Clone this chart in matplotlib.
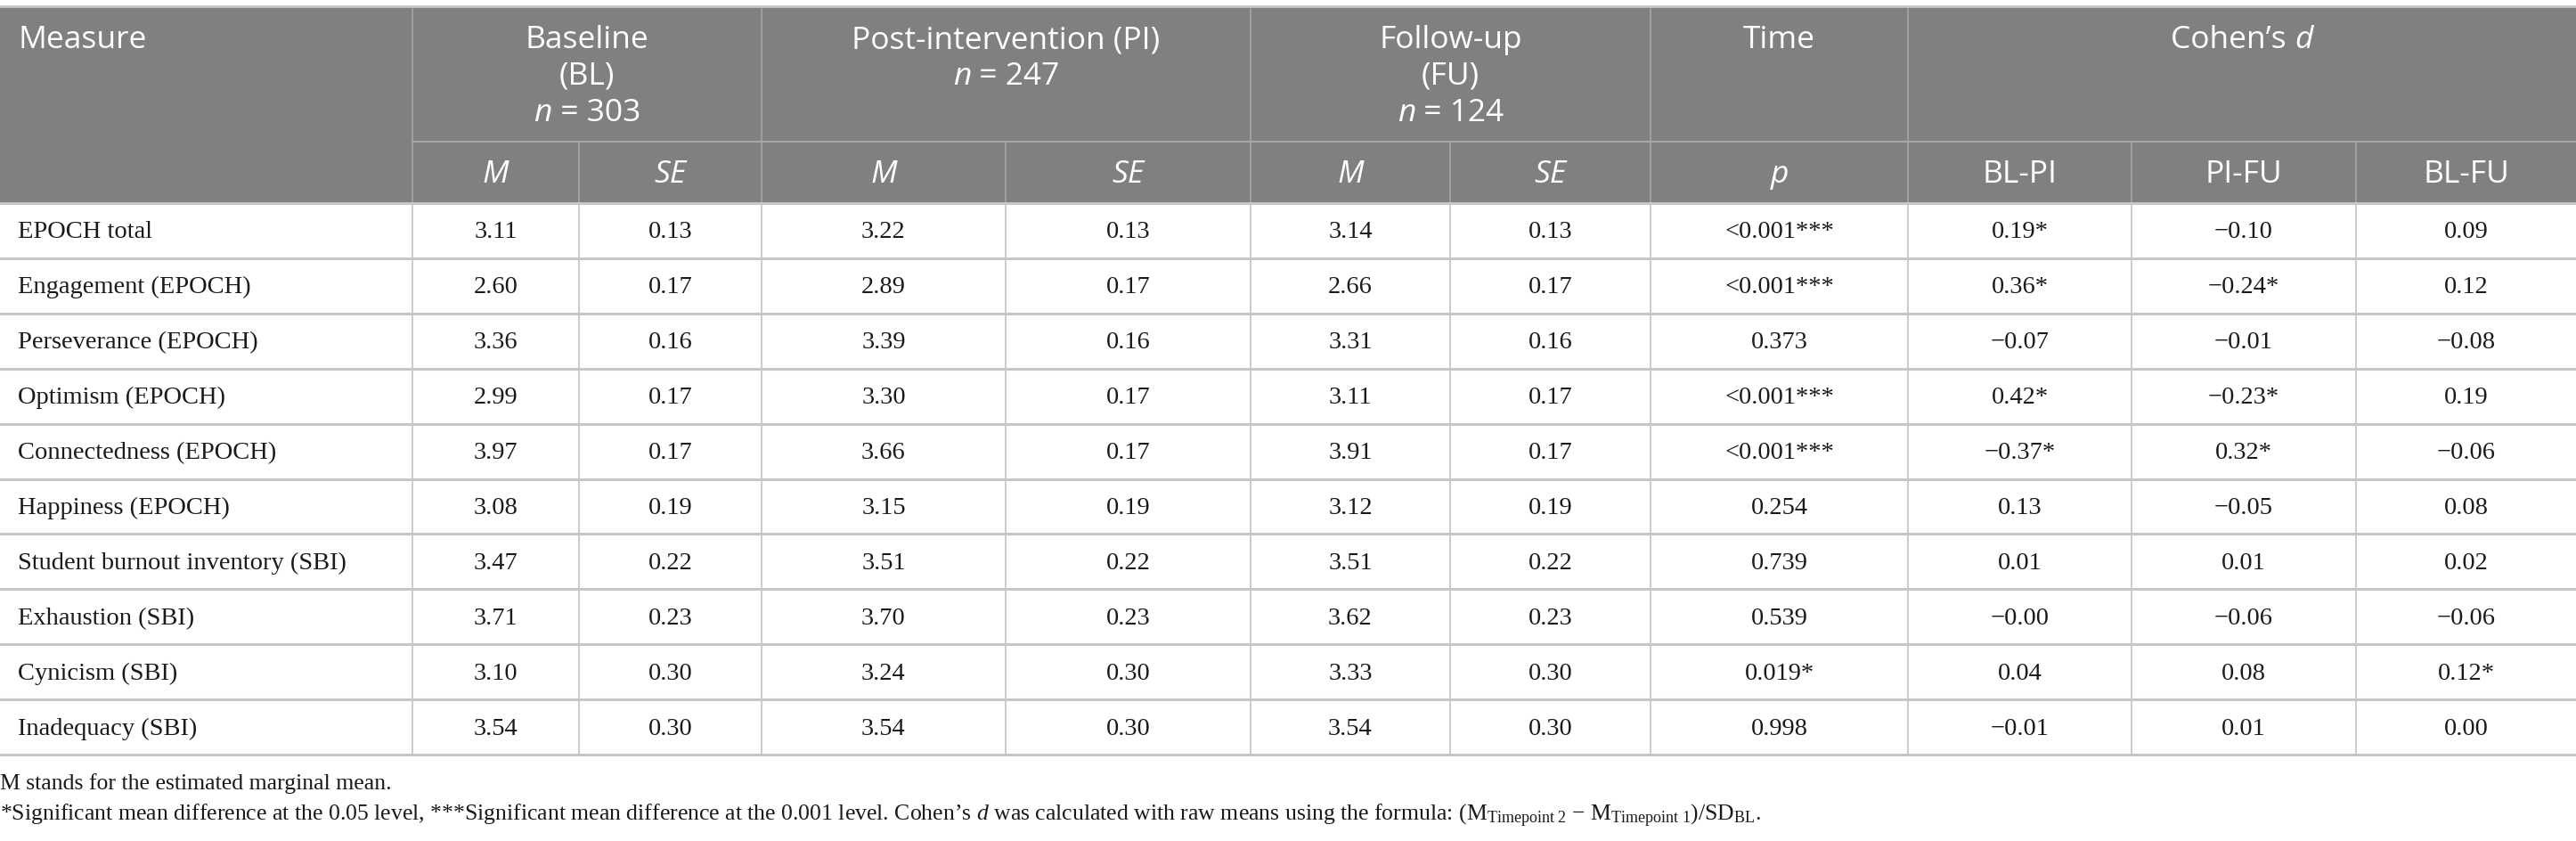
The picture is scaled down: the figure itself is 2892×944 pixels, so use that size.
import matplotlib
matplotlib.use("Agg")
import matplotlib.pyplot as plt

# ---------------- data ----------------
measures = ["EPOCH total", "Engagement (EPOCH)", "Perseverance (EPOCH)", "Optimism (EPOCH)",
            "Connectedness (EPOCH)", "Happiness (EPOCH)", "Student burnout inventory (SBI)",
            "Exhaustion (SBI)", "Cynicism (SBI)", "Inadequacy (SBI)"]
bl_m = ["3.11", "2.60", "3.36", "2.99", "3.97", "3.08", "3.47", "3.71", "3.10", "3.54"]
bl_se = ["0.13", "0.17", "0.16", "0.17", "0.17", "0.19", "0.22", "0.23", "0.30", "0.30"]
pi_m = ["3.22", "2.89", "3.39", "3.30", "3.66", "3.15", "3.51", "3.70", "3.24", "3.54"]
pi_se = ["0.13", "0.17", "0.16", "0.17", "0.17", "0.19", "0.22", "0.23", "0.30", "0.30"]
fu_m = ["3.14", "2.66", "3.31", "3.11", "3.91", "3.12", "3.51", "3.62", "3.33", "3.54"]
fu_se = ["0.13", "0.17", "0.16", "0.17", "0.17", "0.19", "0.22", "0.23", "0.30", "0.30"]
time_p = ["<0.001***", "<0.001***", "0.373", "<0.001***", "<0.001***", "0.254", "0.739",
          "0.539", "0.019*", "0.998"]
d_bl_pi = ["0.19*", "0.36*", "\u22120.07", "0.42*", "\u22120.37*", "0.13", "0.01", "\u22120.00", "0.04", "\u22120.01"]
d_pi_fu = ["\u22120.10", "\u22120.24*", "\u22120.01", "\u22120.23*", "0.32*", "\u22120.05", "0.01", "\u22120.06", "0.08", "0.01"]
d_bl_fu = ["0.09", "0.12", "\u22120.08", "0.19", "\u22120.06", "0.08", "0.02", "\u22120.06", "0.12*", "0.00"]

group_headers = [
    [("Baseline", "n")], [("(BL)", "n")], [("n", "i"), (" = 303", "n")],
]
pi_headers = [[("Post-intervention (PI)", "n")], [("n", "i"), (" = 247", "n")]]
fu_headers = [[("Follow-up", "n")], [("(FU)", "n")], [("n", "i"), (" = 124", "n")]]
sub_headers = [("M", "i"), ("SE", "i"), ("M", "i"), ("SE", "i"), ("M", "i"), ("SE", "i"),
               ("p", "i"), ("BL-PI", "n"), ("PI-FU", "n"), ("BL-FU", "n")]
note1 = "M stands for the estimated marginal mean."
note2 = (r"*Significant mean difference at the 0.05 level, ***Significant mean difference at the 0.001 level. "
         r"Cohen’s $d$ was calculated with raw means using the formula: "
         r"(M$_{\mathrm{Timepoint\ 2}}$ − M$_{\mathrm{Timepoint\ 1}}$)/SD$_{\mathrm{BL}}$.")

# ---------------- layout ----------------
W, H = 2892, 945
col_edges = [0, 463, 650, 855, 1129, 1404, 1628, 1853, 2142, 2393, 2645, 2892]
y_top, y_mid, y_head = 8, 160, 229
row_h = 61.9
n_rows = len(measures)
y_bottom = y_head + row_h * n_rows

plt.rcParams["mathtext.fontset"] = "custom"
plt.rcParams["mathtext.rm"] = "Liberation Serif"
plt.rcParams["mathtext.it"] = "Liberation Serif:italic"

fig = plt.figure(figsize=(W / 100, H / 100), dpi=100)
ax = fig.add_axes([0, 0, 1, 1])
ax.set_xlim(0, W)
ax.set_ylim(H, 0)
ax.axis("off")

HEAD_BG = "#808080"
HEAD_LINE = "#a6a6a6"
GRID = "#c6c6c6"
TXT = "#1a1a1a"
HFONT = "Open Sans"
HSIZE = 25.5
BFONT = "Liberation Serif"
BSIZE = 20.5
FSIZE = 18.5

# header background
ax.add_patch(plt.Rectangle((0, y_top), W, y_head - y_top, color=HEAD_BG, zorder=0, lw=0))
ax.plot([0, W], [y_top, y_top], color=GRID, lw=2, zorder=2)

# header lines
for x in [463, 855, 1404, 1853, 2142]:
    ax.plot([x, x], [y_top, y_head], color=HEAD_LINE, lw=1.2, zorder=1)
for x in [650, 1129, 1628, 2393, 2645]:
    ax.plot([x, x], [y_mid, y_head], color=HEAD_LINE, lw=1.2, zorder=1)
ax.plot([463, W], [y_mid, y_mid], color=HEAD_LINE, lw=1.5, zorder=1)

fig.canvas.draw()
renderer = fig.canvas.get_renderer()


def seg_text(xc, yc, segs, family, size, color, ha="center"):
    """Draw a list of (text, style) segments, centred at xc."""
    objs = []
    widths = []
    for s, st in segs:
        t = ax.text(0, yc, s, family=family, fontsize=size, color=color,
                    style="italic" if st == "i" else "normal", va="center", ha="left")
        bb = t.get_window_extent(renderer)
        widths.append(bb.width)
        objs.append(t)
    total = sum(widths)
    x = xc - total / 2 if ha == "center" else xc
    for t, w in zip(objs, widths):
        t.set_x(x)
        x += w


# top header texts
ax.text(20, 45, "Measure", family=HFONT, fontsize=HSIZE, color="white", va="center", ha="left")
line_ys = [45, 86, 127]
for i, segs in enumerate(group_headers):
    seg_text((463 + 855) / 2, line_ys[i], segs, HFONT, HSIZE, "white")
for i, segs in enumerate(pi_headers):
    seg_text((855 + 1404) / 2, line_ys[i], segs, HFONT, HSIZE, "white")
for i, segs in enumerate(fu_headers):
    seg_text((1404 + 1853) / 2, line_ys[i], segs, HFONT, HSIZE, "white")
seg_text((1853 + 2142) / 2, 45, [("Time", "n")], HFONT, HSIZE, "white")
seg_text((2142 + 2892) / 2, 45, [("Cohen’s ", "n"), ("d", "i")], HFONT, HSIZE, "white")

for j, seg in enumerate(sub_headers):
    xc = (col_edges[j + 1] + col_edges[j + 2]) / 2
    seg_text(xc, 196, [seg], HFONT, HSIZE, "white")

# data rows
columns = [bl_m, bl_se, pi_m, pi_se, fu_m, fu_se, time_p, d_bl_pi, d_pi_fu, d_bl_fu]
for i in range(n_rows):
    yc = y_head + row_h * (i + 0.5) + 1
    ax.text(20, yc, measures[i], family=BFONT, fontsize=BSIZE, color=TXT, va="center", ha="left")
    for j, col in enumerate(columns):
        xc = (col_edges[j + 1] + col_edges[j + 2]) / 2
        ax.text(xc, yc, col[i], family=BFONT, fontsize=BSIZE, color=TXT, va="center", ha="center")

# body grid
for i in range(n_rows + 1):
    y = y_head + row_h * i
    ax.plot([0, W], [y, y], color=GRID, lw=2.2, zorder=2)
for x in col_edges[1:-1]:
    ax.plot([x, x], [y_head, y_bottom], color="#bdbdbd", lw=1.1, zorder=1)

# footnotes
ax.text(0, 880, note1, family=BFONT, fontsize=FSIZE, color=TXT, va="center", ha="left")
ax.text(0, 916, note2, family=BFONT, fontsize=FSIZE, color=TXT, va="center", ha="left")

fig.savefig("out.png", dpi=100, facecolor="white")
